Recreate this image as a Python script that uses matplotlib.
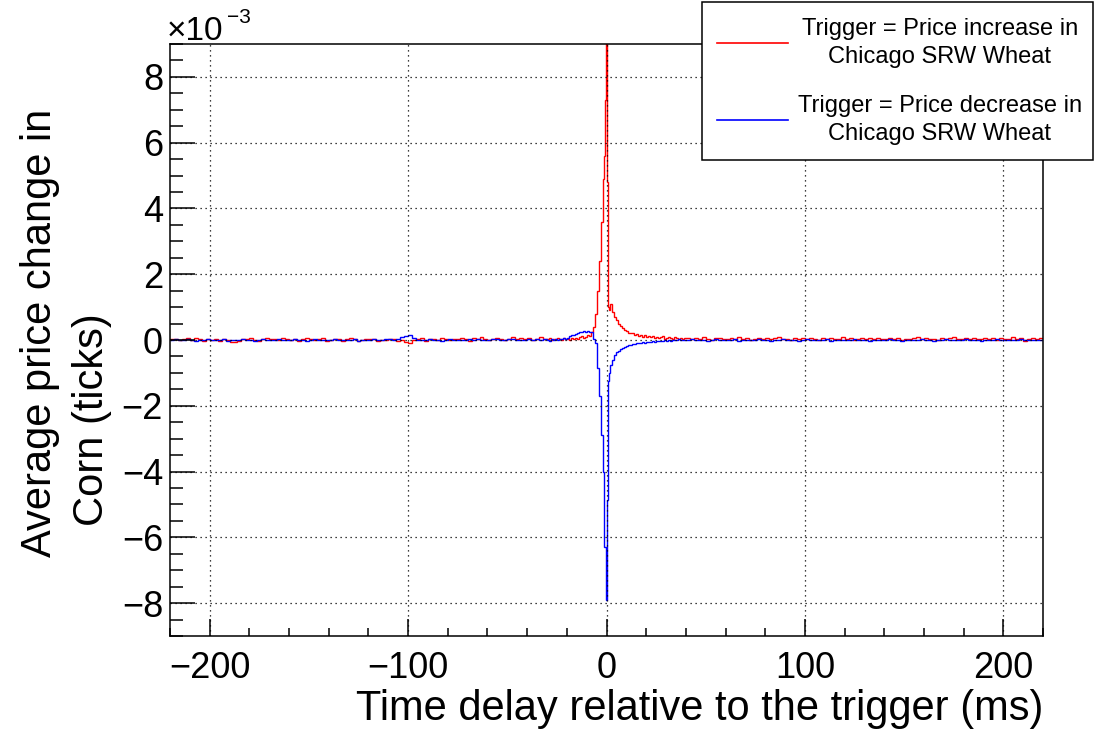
import numpy as np
import matplotlib; matplotlib.use("Agg")
import matplotlib.pyplot as plt
from matplotlib.patches import Rectangle
from matplotlib.lines import Line2D
from matplotlib.ticker import MultipleLocator

plt.rcParams["font.family"] = ["Liberation Sans", "DejaVu Sans"]

# bin edges (ms): 2 ms far from the trigger, 1 ms near it, 0.5 ms at the spike
edges = np.concatenate([np.arange(-220, -30, 2), np.arange(-30, -2, 1),
                        np.arange(-2, 2, 0.5), np.arange(2, 40, 1),
                        np.arange(40, 220.1, 2)])

# average price change in corn, units of 1e-3 ticks
red_left = [0.02, 0.04, -0.01, 0.03, 0.05, 0.01, 0.06, 0.02, -0.02, 0.03,
            0.00, 0.04, -0.03, 0.02, 0.01, -0.05, -0.06, -0.04, 0.02, 0.03,
            0.05, 0.01, -0.02, 0.04, 0.06, 0.02, 0.03, -0.01, 0.05, 0.04,
            0.01, 0.03, -0.03, 0.02, 0.06, 0.04, 0.00, 0.03, 0.05, -0.02,
            0.01, 0.04, 0.02, -0.04, 0.03, 0.05, 0.02, -0.03, 0.01, 0.02,
            0.04, 0.03, -0.02, 0.01, 0.00, 0.03, 0.02, -0.03, 0.01, -0.07,
            -0.08, 0.01, 0.03, 0.06, -0.02, 0.04, 0.02, 0.00, 0.05, 0.03,
            -0.01, 0.02, 0.04, 0.06, 0.03, -0.02, 0.05, 0.02, 0.10, 0.04,
            0.01, 0.03, 0.06, 0.02, -0.01, 0.04, 0.08, 0.03, 0.05, 0.02,
            0.06, 0.01, 0.04, 0.09, 0.03]
red_pre = [0.03, 0.05, 0.01, 0.04, 0.02, 0.06, 0.03, 0.00, 0.05, 0.02,
           0.04, 0.01, 0.06, 0.03, 0.05, 0.02, 0.08, 0.12, 0.05, 0.10,
           0.15, 0.12, 0.25, 0.40, 0.80, 1.50, 2.40, 3.60]
red_spike = [4.9, 5.6, 7.3, 9.8, 5.7, 4.8, 1.0, 0.9]
red_post = [1.1, 0.85, 0.7, 0.6, 0.5, 0.42, 0.35, 0.3, 0.27, 0.22,
            0.2, 0.22, 0.15, 0.18, 0.13, 0.15, 0.1, 0.14, 0.09, 0.12,
            0.08, 0.11, 0.06, 0.1, 0.05, 0.08, 0.12, 0.04, 0.07, 0.09,
            0.05, 0.03, 0.08, 0.06, 0.04, 0.07, 0.02, 0.05]
red_right = [0.05, 0.02, 0.06, 0.03, 0.08, 0.04, 0.01, 0.05, 0.07, 0.03,
             0.02, 0.06, 0.04, 0.09, 0.03, 0.05, 0.01, 0.04, 0.07, 0.02,
             0.06, 0.03, 0.05, 0.08, 0.02, 0.04, 0.01, 0.06, 0.03, 0.05,
             0.02, 0.07, 0.04, 0.01, 0.05, 0.03, 0.06, 0.02, 0.04, 0.08,
             0.03, 0.05, 0.01, 0.04, 0.06, 0.02, 0.05, 0.03, 0.07, 0.04,
             0.02, 0.05, 0.03, 0.06, 0.01, 0.04, 0.02, 0.05, 0.08, 0.03,
             0.06, 0.02, 0.04, 0.01, 0.05, 0.03, 0.07, 0.09, 0.04, 0.02,
             0.05, 0.03, 0.06, 0.02, 0.04, 0.07, 0.03, 0.05, 0.01, 0.06,
             0.04, 0.02, 0.08, 0.03, 0.05, -0.04, 0.02, 0.06, 0.03, 0.05]

blue_left = [0.00, 0.02, -0.01, 0.01, 0.03, 0.00, -0.02, 0.01, 0.00, 0.02,
             -0.01, 0.01, 0.00, 0.02, -0.02, 0.00, 0.01, -0.01, 0.02, 0.00,
             0.01, -0.02, 0.00, 0.02, 0.01, -0.01, 0.00, 0.03, 0.01, 0.00,
             -0.01, 0.02, 0.00, 0.01, -0.02, 0.00, 0.02, 0.01, -0.01, 0.00,
             0.01, 0.02, 0.00, -0.01, 0.01, 0.00, 0.02, -0.02, 0.00, 0.01,
             0.00, 0.02, -0.01, 0.01, 0.03, 0.02, 0.00, 0.04, 0.08, 0.12,
             0.14, 0.06, 0.01, 0.00, -0.01, 0.02, 0.00, 0.01, -0.02, 0.00,
             0.02, 0.01, 0.00, -0.01, 0.01, 0.03, 0.00, 0.02, -0.01, 0.01,
             0.00, 0.02, 0.04, 0.01, 0.00, 0.03, 0.02, -0.01, 0.01, 0.00,
             0.02, 0.01, 0.03, 0.00, 0.02]
blue_pre = [0.01, -0.02, 0.03, 0.00, 0.02, -0.01, 0.04, 0.02, 0.05, 0.03,
            0.06, 0.12, 0.15, 0.14, 0.18, 0.22, 0.25, 0.24, 0.26, 0.25,
            0.26, 0.25, 0.25, 0.02, -0.10, -0.85, -1.7, -2.9]
blue_spike = [-4.0, -6.3, -6.3, -7.9, -4.85, -4.85, -1.26, -1.0]
blue_post = [-0.76, -0.6, -0.45, -0.38, -0.32, -0.28, -0.24, -0.2, -0.18, -0.16,
             -0.15, -0.13, -0.12, -0.1, -0.09, -0.1, -0.07, -0.08, -0.06, -0.05,
             -0.06, -0.04, -0.05, -0.03, -0.04, -0.02, -0.03, -0.01, -0.02, 0.0,
             -0.02, 0.01, -0.01, 0.0, 0.02, -0.01, 0.0, 0.01]
blue_right = [0.00, 0.02, -0.01, 0.01, 0.00, -0.03, 0.01, 0.02, 0.00, -0.01,
              0.01, 0.00, 0.02, -0.02, 0.01, 0.00, 0.01, -0.01, 0.03, 0.00,
              0.01, -0.02, 0.00, 0.01, 0.02, -0.01, 0.00, 0.01, -0.03, 0.00,
              0.02, 0.00, -0.01, 0.01, 0.00, 0.02, -0.02, 0.01, 0.00, -0.01,
              0.01, 0.00, 0.02, -0.01, 0.00, 0.01, -0.02, 0.00, 0.01, 0.00,
              -0.01, 0.02, 0.00, 0.01, -0.02, 0.00, 0.01, 0.00, -0.01, 0.02,
              0.00, 0.01, -0.03, 0.00, 0.01, 0.02, 0.00, -0.01, 0.01, 0.00,
              0.02, -0.01, 0.00, 0.01, -0.02, 0.00, 0.01, 0.00, 0.02, -0.01,
              0.00, 0.01, -0.01, 0.00, 0.02, 0.00, -0.01, 0.01, 0.00, 0.01]

red = np.array(red_left + red_pre + red_spike + red_post + red_right)
blue = np.array(blue_left + blue_pre + blue_spike + blue_post + blue_right)

legend_labels = ["Trigger = Price increase in\nChicago SRW Wheat",
                 "Trigger = Price decrease in\nChicago SRW Wheat"]

W, H = 1095, 729
fig = plt.figure(figsize=(W / 100, H / 100), dpi=100)
ax = fig.add_axes([170 / W, 1 - 636 / H, 873 / W, 592 / H])

ax.stairs(red, edges, color="#ff0000", lw=1.0)
ax.stairs(blue, edges, color="#0000ff", lw=1.0)

ax.set_xlim(-220, 220)
ax.set_ylim(-9, 9)
ax.xaxis.set_major_locator(MultipleLocator(100))
ax.xaxis.set_minor_locator(MultipleLocator(20))
ax.yaxis.set_major_locator(MultipleLocator(2))
ax.yaxis.set_minor_locator(MultipleLocator(0.5))
ax.grid(True, which="major", color="black", ls=(0, (1, 3)), lw=0.9)
ax.tick_params(which="both", direction="in", top=False, right=False, width=1.1)
ax.tick_params(axis="x", which="major", length=12, pad=11, labelsize=26)
ax.tick_params(axis="x", which="minor", length=6)
ax.tick_params(axis="y", which="major", length=18, pad=5, labelsize=26)
ax.tick_params(axis="y", which="minor", length=9)
for s in ax.spines.values():
    s.set_linewidth(1.1)

fig.text(1043 / W, 1 - 720 / H, "Time delay relative to the trigger (ms)",
         ha="right", va="baseline", fontsize=30)
fig.text(40 / W, 1 - 333 / H, "Average price change in", rotation=90,
         ha="center", va="center", fontsize=30)
fig.text(92 / W, 1 - 420 / H, "Corn (ticks)", rotation=90,
         ha="center", va="center", fontsize=30)
fig.text(167 / W, 1 - 40 / H, "\u00d710", ha="left", va="baseline", fontsize=24)
fig.text(227 / W, 1 - 23 / H, "\u22123", ha="left", va="baseline", fontsize=15)

# legend box
fig.add_artist(Rectangle((702 / W, 1 - 160 / H), 391 / W, 158 / H,
                         transform=fig.transFigure, facecolor="white",
                         edgecolor="black", lw=1.1, zorder=5))
for yc, col, lab in [(43, "#ff0000", legend_labels[0]), (120, "#0000ff", legend_labels[1])]:
    fig.add_artist(Line2D([717 / W, 788 / W], [1 - yc / H] * 2, color=col,
                          lw=1.2, transform=fig.transFigure, zorder=6))
    fig.text(940 / W, 1 - yc / H, lab, ha="center", va="center", fontsize=17,
             multialignment="center", linespacing=1.35, zorder=6)

fig.savefig("out.png", dpi=100)
